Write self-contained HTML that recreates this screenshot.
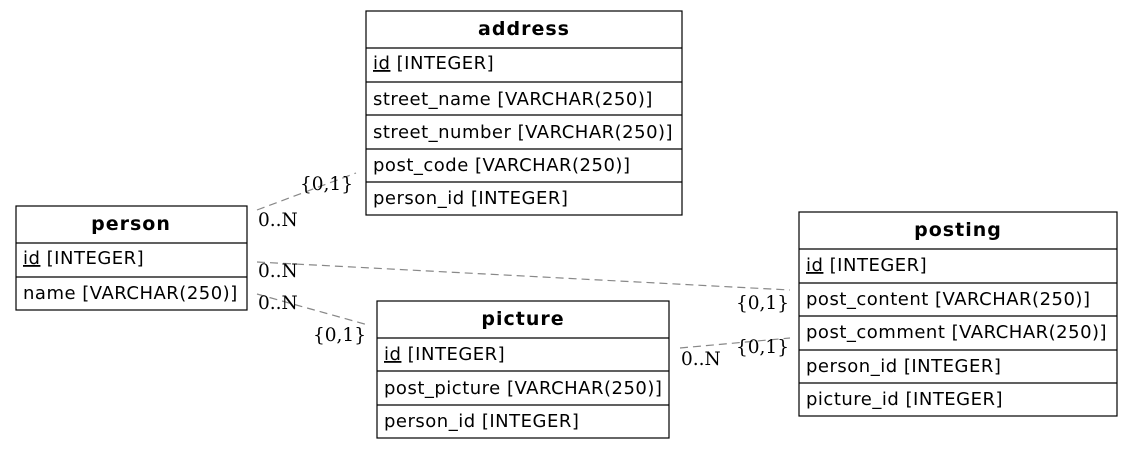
<!DOCTYPE html>
<html><head><meta charset="utf-8"><style>
html,body{margin:0;padding:0;background:#fff;}
svg{display:block}
.t{font-family:"DejaVu Sans","Liberation Sans",sans-serif;font-size:18px;letter-spacing:0.5px;fill:#000}
.h{font-weight:bold;font-size:19px;letter-spacing:1px;text-anchor:middle}
.l{font-family:"DejaVu Serif","Liberation Serif",serif;font-size:18.5px;fill:#000}
.r{fill:#fff;stroke:#000;stroke-width:1.2}
.d{stroke:#888;stroke-width:1.2;stroke-dasharray:8,5;fill:none}
</style></head><body>
<svg width="1133" height="449" xmlns="http://www.w3.org/2000/svg">
<rect width="1133" height="449" fill="#fff"/>
<path class="d" d="M257,210 L356,173"/>
<path class="d" d="M257,262 L790,290"/>
<path class="d" d="M257,294 L368,325"/>
<path class="d" d="M680,348 L790,338"/>
<text class="l" x="300" y="190">{0,1}</text>
<text class="l" x="258" y="226">0..N</text>
<text class="l" x="258" y="277">0..N</text>
<text class="l" x="736" y="309">{0,1}</text>
<text class="l" x="258" y="309">0..N</text>
<text class="l" x="313" y="341">{0,1}</text>
<text class="l" x="681" y="365">0..N</text>
<text class="l" x="736" y="353">{0,1}</text>

<rect class="r" x="366" y="11" width="316" height="204"/>
<path stroke="#000" stroke-width="1.2" d="M366,48H682M366,82H682M366,115H682M366,149H682M366,182H682"/>
<text class="t h" x="524" y="35">address</text>
<text class="t" x="373" y="69"><tspan text-decoration="underline">id</tspan> [INTEGER]</text>
<text class="t" x="373" y="105">street_name [VARCHAR(250)]</text>
<text class="t" x="373" y="138">street_number [VARCHAR(250)]</text>
<text class="t" x="373" y="171">post_code [VARCHAR(250)]</text>
<text class="t" x="373" y="204">person_id [INTEGER]</text>

<rect class="r" x="16" y="206" width="231" height="104"/>
<path stroke="#000" stroke-width="1.2" d="M16,243H247M16,277H247"/>
<text class="t h" x="131" y="230">person</text>
<text class="t" x="23" y="264"><tspan text-decoration="underline">id</tspan> [INTEGER]</text>
<text class="t" x="23" y="299">name [VARCHAR(250)]</text>

<rect class="r" x="377" y="301" width="292" height="137"/>
<path stroke="#000" stroke-width="1.2" d="M377,338H669M377,371H669M377,405H669"/>
<text class="t h" x="523" y="325">picture</text>
<text class="t" x="384" y="360"><tspan text-decoration="underline">id</tspan> [INTEGER]</text>
<text class="t" x="384" y="394">post_picture [VARCHAR(250)]</text>
<text class="t" x="384" y="427">person_id [INTEGER]</text>

<rect class="r" x="799" y="212" width="318" height="204"/>
<path stroke="#000" stroke-width="1.2" d="M799,249H1117M799,283H1117M799,316H1117M799,350H1117M799,383H1117"/>
<text class="t h" x="958" y="236">posting</text>
<text class="t" x="806" y="271"><tspan text-decoration="underline">id</tspan> [INTEGER]</text>
<text class="t" x="806" y="305">post_content [VARCHAR(250)]</text>
<text class="t" x="806" y="338">post_comment [VARCHAR(250)]</text>
<text class="t" x="806" y="372">person_id [INTEGER]</text>
<text class="t" x="806" y="405">picture_id [INTEGER]</text>
</svg>
</body></html>
